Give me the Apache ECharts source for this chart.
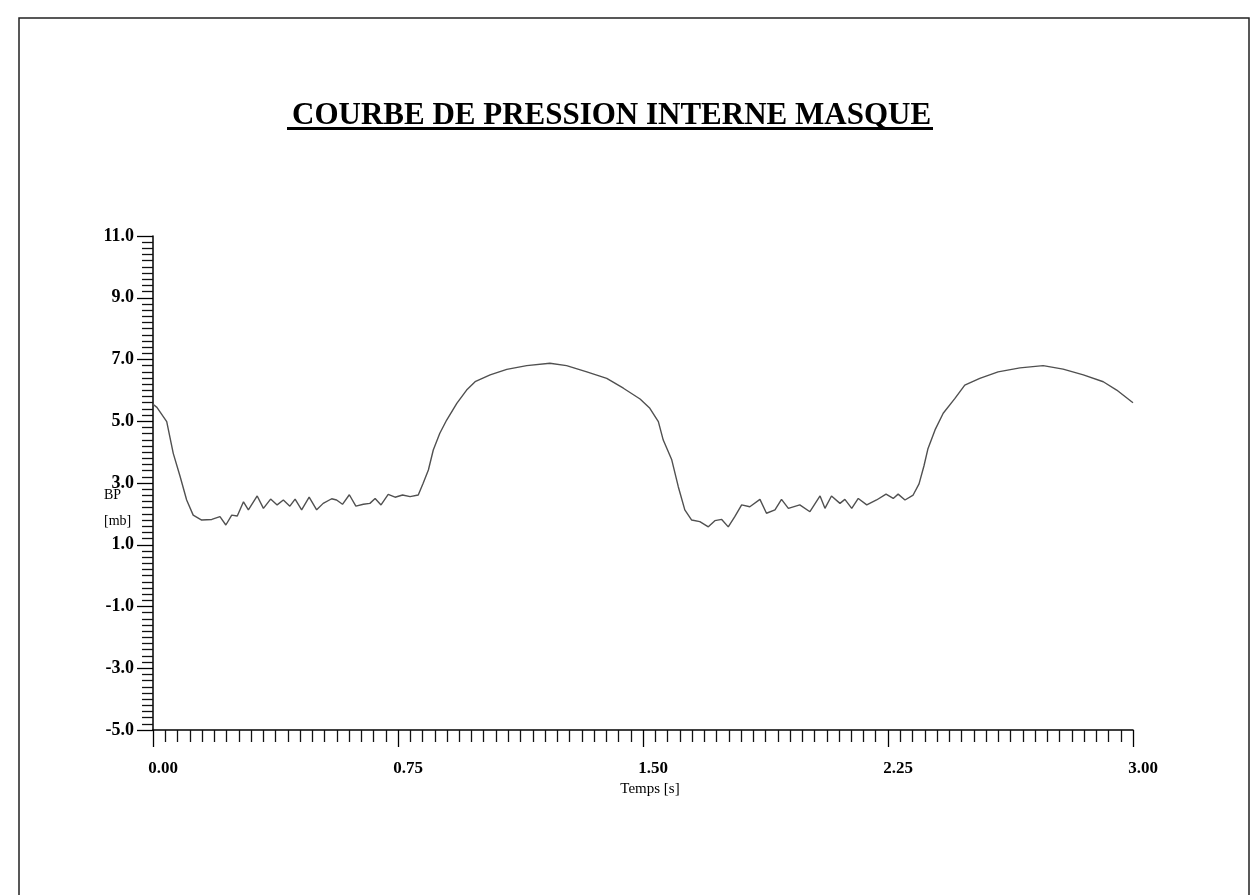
<!DOCTYPE html>
<html>
<head>
<meta charset="utf-8">
<title>Courbe de pression interne masque</title>
<script src="https://cdn.jsdelivr.net/npm/echarts@6/dist/echarts.min.js"></script>
<style>
  html, body { margin: 0; padding: 0; background: #fff; }
  #main { width: 1254px; height: 895px; }
</style>
</head>
<body>
<div id="main"></div>
<script>
// values
const times = [
  0.000, 0.012, 0.042, 0.062, 0.083, 0.103, 0.123, 0.149, 0.180, 0.205,
  0.223, 0.241, 0.258, 0.277, 0.292, 0.319, 0.338, 0.360, 0.380, 0.399,
  0.419, 0.435, 0.455, 0.478, 0.501, 0.521, 0.547, 0.562, 0.580, 0.601,
  0.621, 0.644, 0.664, 0.680, 0.698, 0.720, 0.741, 0.764, 0.787, 0.812,
  0.827, 0.843, 0.858, 0.878, 0.899, 0.930, 0.960, 0.986, 1.032, 1.083,
  1.144, 1.215, 1.266, 1.328, 1.389, 1.440, 1.491, 1.521, 1.547, 1.562,
  1.588, 1.608, 1.628, 1.649, 1.674, 1.700, 1.720, 1.741, 1.761, 1.781,
  1.802, 1.827, 1.858, 1.878, 1.904, 1.924, 1.945, 1.980, 2.011, 2.042,
  2.057, 2.077, 2.103, 2.118, 2.139, 2.159, 2.185, 2.215, 2.244, 2.266,
  2.281, 2.302, 2.327, 2.345, 2.360, 2.372, 2.394, 2.419, 2.455, 2.485,
  2.531, 2.587, 2.654, 2.725, 2.786, 2.848, 2.909, 2.950, 3.000
];
const pressure = [
  5.55, 5.45, 4.99, 3.96, 3.21, 2.45, 1.96, 1.80, 1.82, 1.91,
  1.64, 1.96, 1.93, 2.39, 2.13, 2.58, 2.18, 2.48, 2.29, 2.45,
  2.25, 2.48, 2.13, 2.54, 2.13, 2.34, 2.49, 2.45, 2.31, 2.62,
  2.25, 2.31, 2.34, 2.50, 2.29, 2.63, 2.54, 2.61, 2.56, 2.61,
  2.99, 3.42, 4.07, 4.61, 5.04, 5.58, 6.01, 6.28, 6.50, 6.68,
  6.80, 6.88, 6.80, 6.60, 6.39, 6.07, 5.72, 5.42, 4.99, 4.39,
  3.75, 2.88, 2.13, 1.80, 1.75, 1.58, 1.78, 1.82, 1.58, 1.91,
  2.29, 2.23, 2.47, 2.02, 2.13, 2.47, 2.18, 2.29, 2.07, 2.58,
  2.18, 2.58, 2.34, 2.47, 2.18, 2.50, 2.29, 2.45, 2.64, 2.50,
  2.64, 2.45, 2.61, 2.97, 3.55, 4.10, 4.72, 5.26, 5.74, 6.17,
  6.39, 6.60, 6.73, 6.80, 6.69, 6.50, 6.28, 6.01, 5.60
];
const xTicks = [0, 0.75, 1.5, 2.25, 3];      // labelled time ticks
const yTicks = [-5, -3, -1, 1, 3, 5, 7, 9, 11]; // labelled pressure ticks

const serif = '"Liberation Serif", "DejaVu Serif", serif';

const chart = echarts.init(document.getElementById('main'));
const options = {};

options.backgroundColor = '#fff';
options.animation = false;

options.title = {
  text: 'COURBE DE PRESSION INTERNE MASQUE',
  left: 287,
  top: 95,
  textStyle: { fontFamily: serif, fontWeight: 'bold', fontSize: 31, color: '#000' }
};

options.grid = { left: 153, top: 236, right: 121, bottom: 165, containLabel: false };

options.xAxis = {
  type: 'value',
  min: xTicks[0],
  max: xTicks[xTicks.length - 1],
  interval: xTicks[1] - xTicks[0],
  name: 'Temps [s]',
  nameLocation: 'middle',
  nameGap: 44,
  nameTextStyle: { fontFamily: serif, fontSize: 15, color: '#000', padding: [0, 0, 0, 14] },
  axisLine: { onZero: false, lineStyle: { color: '#000', width: 1.5 } },
  axisTick: { length: 17, lineStyle: { color: '#000', width: 1.3 } },
  minorTick: { show: true, splitNumber: 20, length: 12, lineStyle: { color: '#111', width: 1.3 } },
  axisLabel: {
    margin: 30,
    fontFamily: serif, fontWeight: 'bold', fontSize: 17, color: '#000',
    padding: [0, 0, 0, 20],
    formatter: v => v.toFixed(2)
  },
  splitLine: { show: false }
};

options.yAxis = {
  type: 'value',
  min: yTicks[0],
  max: yTicks[yTicks.length - 1],
  interval: yTicks[1] - yTicks[0],
  axisLine: { onZero: false, lineStyle: { color: '#000', width: 1.5 } },
  axisTick: { length: 16, lineStyle: { color: '#000', width: 1.3 } },
  minorTick: { show: true, splitNumber: 10, length: 11, lineStyle: { color: '#111', width: 1.3 } },
  axisLabel: {
    margin: 19,
    fontFamily: serif, fontWeight: 'bold', fontSize: 18, color: '#000',
    formatter: v => v.toFixed(1)
  },
  splitLine: { show: false }
};

options.series = [
  {
    name: 'BP',
    type: 'line',
    data: times.map((t, i) => [t, pressure[i]]),
    showSymbol: false,
    smooth: false,
    lineStyle: { color: '#505050', width: 1.4 }
  }
];

// page frame, title underline and the y axis name (BP / [mb])
options.graphic = [
  {
    type: 'rect',
    shape: { x: 19, y: 18, width: 1230, height: 900 },
    style: { fill: 'none', stroke: '#222', lineWidth: 1.5 },
    silent: true
  },
  {
    type: 'rect',
    shape: { x: 287, y: 127, width: 646, height: 3 },
    style: { fill: '#000' },
    silent: true
  },
  {
    type: 'text',
    left: 104,
    top: 488,
    style: { text: 'BP', font: '14px ' + serif, fill: '#000' }
  },
  {
    type: 'text',
    left: 104,
    top: 514,
    style: { text: '[mb]', font: '14px ' + serif, fill: '#000' }
  }
];

chart.setOption(options);
</script>
</body>
</html>
